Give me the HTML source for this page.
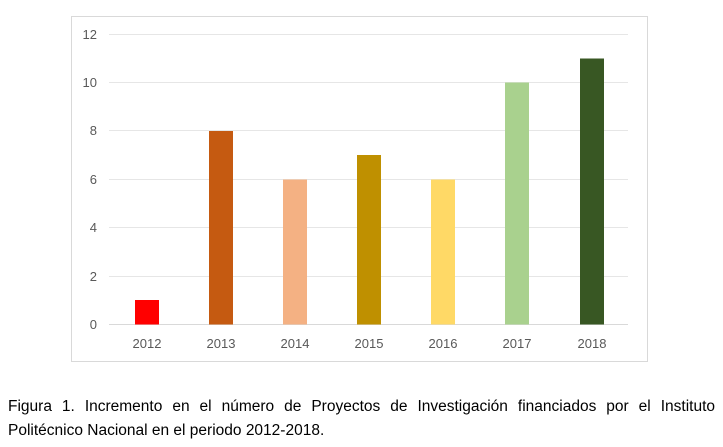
<!DOCTYPE html>
<html><head><meta charset="utf-8"><style>
body{margin:0;background:#fff;width:723px;height:447px;overflow:hidden;font-family:"Liberation Sans",sans-serif}
.cap{position:absolute;left:8px;width:707px;font-size:15.5px;color:#000;text-align:justify;text-align-last:justify;white-space:nowrap}
</style></head><body>
<svg width="723" height="447" style="position:absolute;left:0;top:0">
<rect x="71.5" y="16.5" width="576" height="345" fill="#fff" stroke="#d9d9d9"/>
<g stroke="#e6e6e6" stroke-width="1">
<line x1="109" x2="628" y1="34.5" y2="34.5"/><line x1="109" x2="628" y1="82.5" y2="82.5"/>
<line x1="109" x2="628" y1="130.5" y2="130.5"/><line x1="109" x2="628" y1="179.5" y2="179.5"/>
<line x1="109" x2="628" y1="227.5" y2="227.5"/><line x1="109" x2="628" y1="276.5" y2="276.5"/>
</g>
<line x1="109" x2="628" y1="324.5" y2="324.5" stroke="#d9d9d9"/>
<g fill="#595959" font-size="13" text-anchor="end" font-family="Liberation Sans,sans-serif">
<text x="97" y="39">12</text><text x="97" y="87">10</text><text x="97" y="135">8</text>
<text x="97" y="184">6</text><text x="97" y="232">4</text><text x="97" y="281">2</text><text x="97" y="329">0</text>
</g>
<rect x="135" y="300" width="24" height="24.5" fill="#ff0000"/>
<rect x="209" y="131" width="24" height="193.5" fill="#c55a11"/>
<rect x="283" y="179.5" width="24" height="145" fill="#f4b183"/>
<rect x="357" y="155" width="24" height="169.5" fill="#bf9000"/>
<rect x="431" y="179.5" width="24" height="145" fill="#ffd966"/>
<rect x="505" y="82.5" width="24" height="242" fill="#a9d18e"/>
<rect x="580" y="58.5" width="24" height="266" fill="#385723"/>
<g fill="#595959" font-size="13" text-anchor="middle" font-family="Liberation Sans,sans-serif">
<text x="147" y="348">2012</text><text x="221" y="348">2013</text><text x="295" y="348">2014</text>
<text x="369" y="348">2015</text><text x="443" y="348">2016</text><text x="517" y="348">2017</text><text x="592" y="348">2018</text>
</g>
</svg>
<div class="cap" style="top:398px">Figura 1. Incremento en el número de Proyectos de Investigación financiados por el Instituto</div>
<div class="cap" style="top:422px;text-align-last:left">Politécnico Nacional en el periodo 2012-2018.</div>
</body></html>
